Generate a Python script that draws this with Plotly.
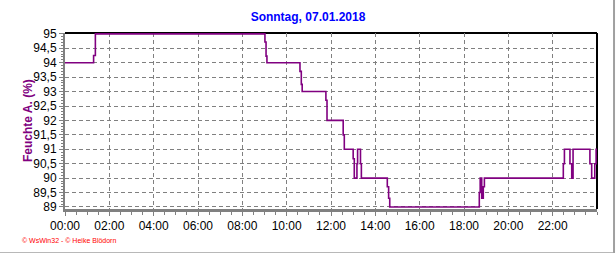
import plotly.graph_objects as go

# Time of day in hours and relative humidity (%)
hours = [0.0, 1.29, 1.37, 9.02, 9.07, 9.11, 10.60, 10.66, 10.70, 11.77, 11.82,
         12.55, 12.60, 13.00, 13.05, 13.17, 13.20, 13.33, 13.37, 14.54, 14.60,
         14.65, 18.69, 18.73, 18.80, 18.87, 18.92, 22.48, 22.53, 22.78, 22.86,
         22.92, 23.68, 23.76, 23.90, 23.96, 24.0]
humidity = [94, 94.25, 95, 94.72, 94.23, 94, 93.7, 93.25, 93, 92.7, 92,
            91.5, 91, 90.67, 90, 90.5, 91, 90.5, 90, 89.7, 89.3,
            89, 89.5, 90, 89.3, 89.7, 90, 90.5, 91, 90.5, 90,
            91, 90.5, 90, 90.5, 91, 91]

tick_hours = [0, 2, 4, 6, 8, 10, 12, 14, 16, 18, 20, 22]
tick_labels = ["00:00", "02:00", "04:00", "06:00", "08:00", "10:00",
               "12:00", "14:00", "16:00", "18:00", "20:00", "22:00"]

title_text = "Sonntag, 07.01.2018"
y_title = "Feuchte A. (%)"
footer = "© WsWin32 - © Heike Blödorn"

fig = go.Figure()
fig.add_trace(go.Scatter(x=hours, y=humidity, mode="lines",
                         line=dict(color="#800080", width=1.6, shape="hv"),
                         hoverinfo="skip"))

font_family = "Liberation Sans, Arial, sans-serif"

fig.update_layout(
    width=616, height=253,
    margin=dict(l=65, r=19, t=33, b=44),
    paper_bgcolor="white", plot_bgcolor="white",
    separators=",.",
    showlegend=False,
    font=dict(family=font_family, size=12, color="black"),
    title=dict(text="<b>" + title_text + "</b>", x=0.5, xref="container",
               y=0.935, yref="container", yanchor="middle",
               font=dict(size=12, color="#0000FF", family=font_family)),
    xaxis=dict(range=[0, 24], tickvals=tick_hours, ticktext=tick_labels,
               showgrid=True, gridcolor="#808080", griddash="4px,3px", gridwidth=1,
               showline=True, linecolor="#808080", linewidth=3,
               ticks="outside", ticklen=4, tickcolor="#808080", tickwidth=1,
               minor=dict(dtick=0.5, ticks="outside", ticklen=3, tickcolor="#808080", showgrid=False),
               tickfont=dict(size=12, color="black"), zeroline=False, fixedrange=True),
    yaxis=dict(range=[88.93, 95.03], dtick=0.5, tick0=89,
               showgrid=True, gridcolor="#808080", griddash="4px,3px", gridwidth=1,
               showline=True, linecolor="#808080", linewidth=2,
               ticks="outside", ticklen=4, tickcolor="#808080", tickwidth=1,
               minor=dict(dtick=0.1, ticks="outside", ticklen=2, tickcolor="#808080", showgrid=False),
               tickfont=dict(size=12, color="black"), zeroline=False,
               fixedrange=True),
)

# black top and right border of the plot area
fig.add_shape(type="line", xref="paper", yref="paper", x0=0, x1=1, y0=1, y1=1,
              line=dict(color="black", width=2), layer="below")
fig.add_shape(type="line", xref="paper", yref="paper", x0=1, x1=1, y0=0, y1=1,
              line=dict(color="black", width=2), layer="below")
# outer frame (right and bottom)
fig.add_shape(type="line", xref="paper", yref="paper", x0=1.032, x1=1.032, y0=-0.26, y1=1.2,
              line=dict(color="#A0A0A0", width=2))
fig.add_shape(type="line", xref="paper", yref="paper", x0=-0.2, x1=1.032, y0=-0.252, y1=-0.252,
              line=dict(color="#A0A0A0", width=2))

# y axis title
fig.add_annotation(text="<b>" + y_title + "</b>", xref="paper", yref="paper",
                   x=-0.0695, y=0.5, xanchor="center", yanchor="middle", textangle=-90,
                   showarrow=False, font=dict(size=12, color="#800080", family=font_family))

fig.add_annotation(text=footer, xref="paper", yref="paper", x=-0.085, y=-0.18,
                   xanchor="left", yanchor="middle", showarrow=False,
                   font=dict(size=7, color="#FF0000", family=font_family))

fig.write_html("out.html")
